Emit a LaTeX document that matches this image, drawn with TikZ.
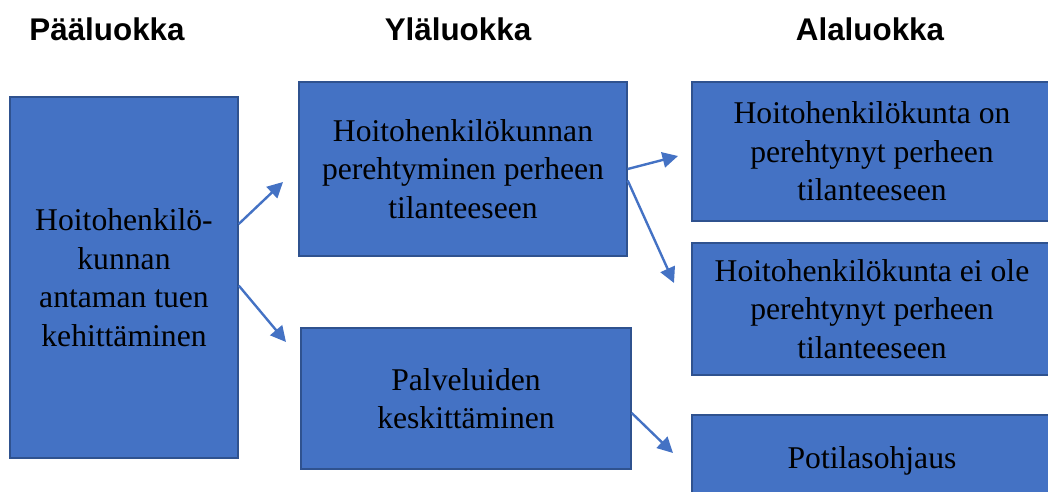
\documentclass[tikz,border=0pt]{standalone}
\usepackage{xcolor}
\usepackage{fontspec}
\setmainfont{Liberation Serif}
\newfontfamily\headfont{Liberation Sans}
\usetikzlibrary{arrows.meta}
\definecolor{boxblue}{HTML}{4472C4}
\definecolor{boxedge}{HTML}{2F528F}

\begin{document}
\begin{tikzpicture}[x=0.025cm, y=-0.025cm,
    luokka/.style={draw=boxedge, line width=1pt, fill=boxblue, rectangle,
                   align=center, inner sep=0pt,
                   font=\fontsize{22.5}{27.4}\selectfont},
    otsikko/.style={anchor=base, font=\headfont\bfseries\fontsize{22.3}{26}\selectfont},
    arrow/.style={-{Triangle[length=11pt,width=11pt]}, line width=1.7pt, boxblue}
]
\useasboundingbox (0,0) rectangle (1048,492);

% Otsikot
\node[otsikko] (paa) at (107,41) {Pääluokka};
\node[otsikko] (yla) at (458,41) {Yläluokka};
\node[otsikko] (ala) at (870,41) {Alaluokka};

% Pääluokka
\node[luokka, minimum width=228*0.025cm, minimum height=361*0.025cm] (hoito) at (124,277.5)
  {Hoitohenkilö-\\kunnan\\antaman tuen\\kehittäminen};

% Yläluokat
\node[luokka, minimum width=328*0.025cm, minimum height=174*0.025cm] (pereh) at (463,169)
  {Hoitohenkilökunnan\\perehtyminen perheen\\tilanteeseen};
\node[luokka, minimum width=330*0.025cm, minimum height=141*0.025cm] (palv) at (466,398.5)
  {Palveluiden\\keskittäminen};

% Alaluokat
\node[luokka, minimum width=360*0.025cm, minimum height=139*0.025cm] (on) at (872,151.5)
  {Hoitohenkilökunta on\\perehtynyt perheen\\tilanteeseen};
\node[luokka, minimum width=360*0.025cm, minimum height=132*0.025cm] (eiole) at (872,309)
  {Hoitohenkilökunta ei ole\\perehtynyt perheen\\tilanteeseen};
\node[luokka, minimum width=360*0.025cm, minimum height=92*0.025cm] (ohjaus) at (872,461)
  {Potilasohjaus};

% Nuolten kärjet
\coordinate (k1) at (283,182);
\coordinate (k2) at (286,342);
\coordinate (k3) at (678,156);
\coordinate (k4) at (674,283);
\coordinate (k5) at (673,453);

\draw[arrow] (hoito.25) -- (k1);
\draw[arrow] (hoito.-4) -- (k2);
\draw[arrow] (pereh.east) -- (k3);
\draw[arrow] (pereh.-4) -- (k4);
\draw[arrow] (palv.-5) -- (k5);

\end{tikzpicture}
\end{document}
